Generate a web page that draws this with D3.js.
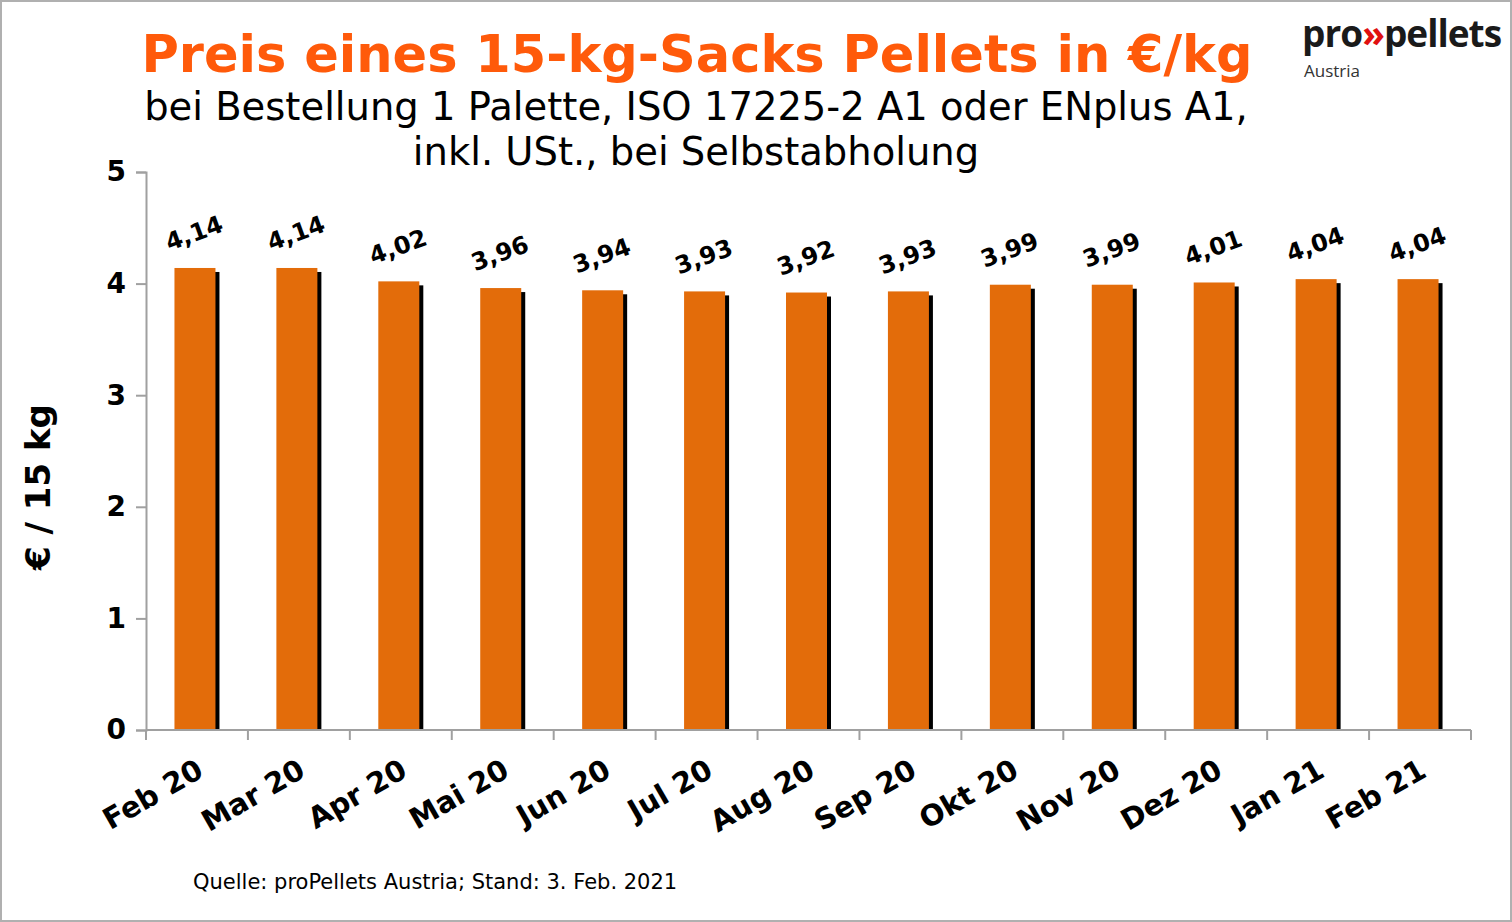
<!DOCTYPE html>
<html><head><meta charset="utf-8">
<script src="https://cdn.jsdelivr.net/npm/d3@7"></script>
<style>
body{margin:0;background:#fff;font-family:"DejaVu Sans",Verdana,sans-serif;}
</style></head><body>
<svg id="chart" width="1512" height="922"></svg>
<script>
const months = ['Feb 20','Mar 20','Apr 20','Mai 20','Jun 20','Jul 20','Aug 20','Sep 20','Okt 20','Nov 20','Dez 20','Jan 21','Feb 21'];
const prices = [4.14,4.14,4.02,3.96,3.94,3.93,3.92,3.93,3.99,3.99,4.01,4.04,4.04];
const yTicks = [0,1,2,3,4,5];

const svg = d3.select('#chart');
svg.append('rect').attr('x',1).attr('y',1).attr('width',1510).attr('height',920)
  .attr('fill','#fff').attr('stroke','#b0b0b0').attr('stroke-width',2);

const x = d3.scaleBand().domain(months).range([146,1471]);
const y = d3.scaleLinear().domain([0,5]).range([730,172]);
const bw = 41;
const fmt = v => v.toFixed(2).replace('.',',');

// bars
const g = svg.append('g');
months.forEach((m,i) => {
  const bx = x(m) + (x.bandwidth()-bw)/2 - 2;
  g.append('rect').attr('x',bx+4).attr('y',y(prices[i])+4).attr('width',bw).attr('height',y(0)-y(prices[i])-4).attr('fill','#000');
  g.append('rect').attr('x',bx).attr('y',y(prices[i])).attr('width',bw).attr('height',y(0)-y(prices[i])).attr('fill','#e36c0a');
  g.append('text').attr('transform',`translate(${bx+bw/2+2},${y(prices[i])-27}) rotate(-20)`)
    .attr('text-anchor','middle').attr('font-weight','bold').attr('font-size',24).text(fmt(prices[i]));
});

// axes
const ya = svg.append('g').attr('transform','translate(146,0)')
  .call(d3.axisLeft(y).tickValues(yTicks).tickSize(10).tickPadding(10).tickFormat(d3.format('d')));
ya.selectAll('text').attr('font-size',28).attr('font-weight','bold').attr('fill','#000').attr('font-family','DejaVu Sans');
const xa = svg.append('g').attr('transform','translate(0,730)')
  .call(d3.axisBottom(x).tickSize(0).tickFormat(''));
svg.append('g').selectAll('line').data(d3.range(months.length+1)).join('line')
  .attr('x1',i=>146+i*x.step()).attr('x2',i=>146+i*x.step()).attr('y1',730).attr('y2',740);
[ya,xa].forEach(a=>{a.selectAll('path,line').attr('stroke','#a0a0a0').attr('stroke-width',2);});
svg.selectAll('g > line').attr('stroke','#a0a0a0').attr('stroke-width',2);
xa.select('.domain').attr('d','M146,0H1471');

svg.append('g').selectAll('text').data(months).join('text')
  .attr('transform',d=>`translate(${x(d)+x.bandwidth()/2-2},${758}) rotate(-30)`)
  .attr('text-anchor','end').attr('dy','0.7em').attr('font-size',29).attr('font-weight','bold').text(d=>d);

svg.append('text').attr('transform','translate(50,487) rotate(-90)').attr('text-anchor','middle')
  .attr('font-size',34).attr('font-weight','bold').text('€ / 15 kg');

// titles
svg.append('text').attr('x',697).attr('y',72).attr('text-anchor','middle').attr('fill','#ff5a0a')
  .attr('font-size',51).attr('font-weight','bold').text('Preis eines 15-kg-Sacks Pellets in €/kg');
svg.append('text').attr('x',696).attr('y',120).attr('text-anchor','middle').attr('font-size',38.5).text('bei Bestellung 1 Palette, ISO 17225-2 A1 oder ENplus A1,');
svg.append('text').attr('x',696).attr('y',165).attr('text-anchor','middle').attr('font-size',38.5).text('inkl. USt., bei Selbstabholung');
svg.append('text').attr('x',193).attr('y',889).attr('font-size',21).text('Quelle: proPellets Austria; Stand: 3. Feb. 2021');

// logo
const lg = svg.append('text').attr('x',1302).attr('y',47).attr('font-family','Open Sans').attr('font-weight','bold').attr('font-size',37).attr('letter-spacing',-1);
lg.append('tspan').attr('fill','#1a1a1a').text('pro');
lg.append('tspan').attr('fill','#e01010').text('»');
lg.append('tspan').attr('fill','#1a1a1a').text('pellets');
svg.append('text').attr('x',1304).attr('y',77).attr('font-family','Open Sans').attr('font-size',17).attr('fill','#333').text('Austria');
</script>
</body></html>
